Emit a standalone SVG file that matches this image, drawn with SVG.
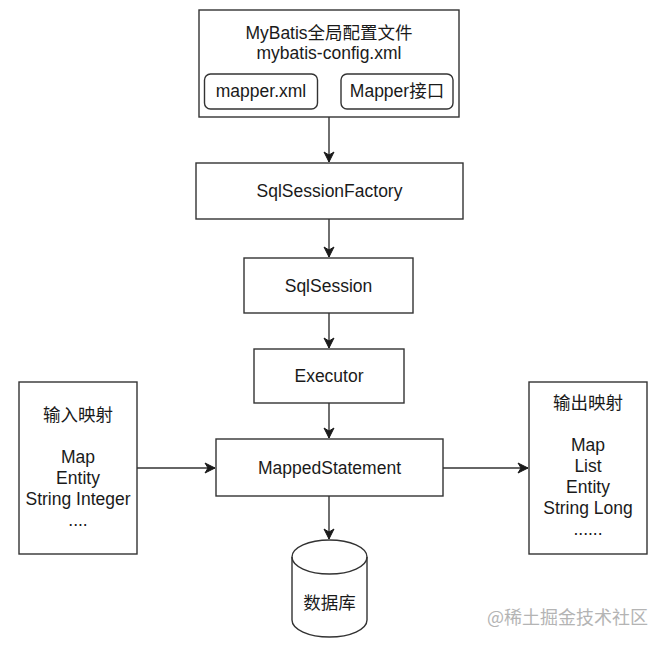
<svg xmlns="http://www.w3.org/2000/svg" width="666" height="645" viewBox="0 0 666 645">
<defs>
<style>
.box{fill:#fff;stroke:#333;stroke-width:1.4}
.t{font-family:"Liberation Sans","Noto Sans CJK SC",Arial,sans-serif;font-size:17.5px;fill:#1a1a1a;text-anchor:middle}
.edge{fill:none;stroke:#333;stroke-width:1.4}
.wm{font-family:"Noto Sans CJK SC","Liberation Sans",sans-serif;font-size:18px;fill:#b4b4b4;text-anchor:start}
</style>
<marker id="arr" viewBox="0 0 12 12" markerWidth="12" markerHeight="12" refX="11" refY="6" orient="auto" markerUnits="userSpaceOnUse">
<path d="M1,1 L11,6 L1,11 L4,6 Z" fill="#1a1a1a" stroke="#1a1a1a" stroke-width="1" stroke-linejoin="miter"/>
</marker>
</defs>
<rect width="666" height="645" fill="#fff"/>
<g id="connectors">
<line class="edge" x1="329" y1="117" x2="329" y2="162" marker-end="url(#arr)"/>
<line class="edge" x1="329" y1="219" x2="329" y2="257" marker-end="url(#arr)"/>
<line class="edge" x1="329" y1="313" x2="329" y2="348" marker-end="url(#arr)"/>
<line class="edge" x1="329" y1="403" x2="329" y2="438" marker-end="url(#arr)"/>
<line class="edge" x1="329" y1="496" x2="329" y2="539" marker-end="url(#arr)"/>
<line class="edge" x1="137" y1="468" x2="215" y2="468" marker-end="url(#arr)"/>
<line class="edge" x1="443" y1="468" x2="528" y2="468" marker-end="url(#arr)"/>
</g>
<g id="config">
<rect class="box" x="199" y="10" width="260" height="107"/>
<text class="t" x="329" y="39">MyBatis全局配置文件</text>
<text class="t" x="329" y="59">mybatis-config.xml</text>
</g>
<g id="mapperxml">
<rect class="box" x="204.5" y="74" width="113" height="35" rx="6"/>
<text class="t" x="261" y="97">mapper.xml</text>
</g>
<g id="mapperif">
<rect class="box" x="341" y="74" width="112" height="35" rx="6"/>
<text class="t" x="397" y="97">Mapper接口</text>
</g>
<g id="factory">
<rect class="box" x="196" y="163" width="267" height="56"/>
<text class="t" x="329.5" y="197">SqlSessionFactory</text>
</g>
<g id="session">
<rect class="box" x="244" y="258" width="169" height="55"/>
<text class="t" x="328.5" y="291.5">SqlSession</text>
</g>
<g id="executor">
<rect class="box" x="254" y="349" width="150" height="54"/>
<text class="t" x="329" y="382">Executor</text>
</g>
<g id="mapped">
<rect class="box" x="216" y="439" width="227" height="57"/>
<text class="t" x="329.5" y="473.5">MappedStatement</text>
</g>
<g id="input">
<rect class="box" x="19" y="382" width="118" height="172"/>
<text class="t" x="78" y="421">输入映射</text>
<text class="t" x="78" y="463">Map</text>
<text class="t" x="78" y="484">Entity</text>
<text class="t" x="78" y="505">String Integer</text>
<text class="t" x="78" y="526">....</text>
</g>
<g id="output">
<rect class="box" x="529" y="382" width="118" height="172"/>
<text class="t" x="588" y="409">输出映射</text>
<text class="t" x="588" y="451">Map</text>
<text class="t" x="588" y="472">List</text>
<text class="t" x="588" y="493">Entity</text>
<text class="t" x="588" y="514">String Long</text>
<text class="t" x="588" y="535">......</text>
</g>
<g id="db">
<path class="box" d="M292,557 A37.5,17 0 0 1 367,557 L367,620 A37.5,17 0 0 1 292,620 Z"/>
<path class="edge" d="M292,557 A37.5,17 0 0 0 367,557"/>
<text class="t" x="329.5" y="609">数据库</text>
</g>
<text class="wm" x="487" y="624">@稀土掘金技术社区</text>
</svg>
